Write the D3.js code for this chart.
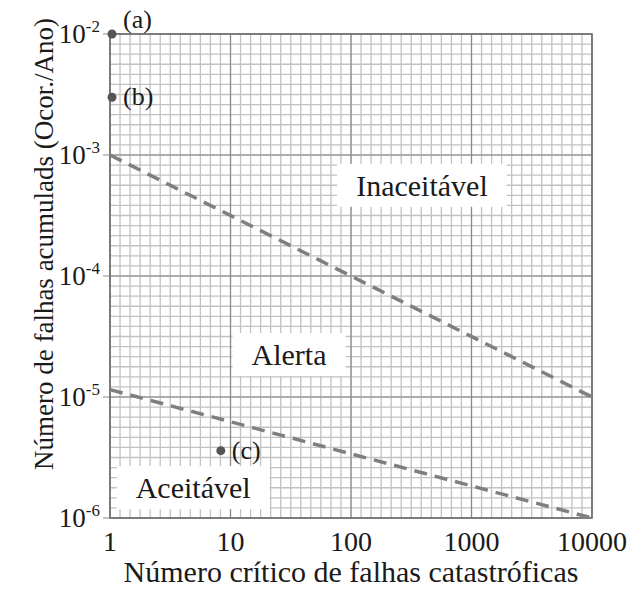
<!DOCTYPE html>
<html>
<head>
<meta charset="utf-8">
<script src="https://cdn.jsdelivr.net/npm/d3@7"></script>
<style>
  body { margin: 0; background: #fff; }
  svg text { font-family: "Liberation Serif", "Times New Roman", serif; fill: #1a1a1a; }
</style>
</head>
<body>
<svg width="628" height="590"></svg>
<script>
const width = 628;
const height = 590;

// data
const xTicks = [1, 10, 100, 1000, 10000];
const yTicks = [1e-6, 1e-5, 1e-4, 1e-3, 1e-2];
const yTickExp = ['-6', '-5', '-4', '-3', '-2'];
const upperLimit = [[1, 1e-3], [10000, 1e-5]];
const lowerLimit = [[1, 1.15e-5], [10000, 1e-6]];
const points = [
  { x: 1, y: 1e-2, label: '(a)' },
  { x: 1, y: 3e-3, label: '(b)' },
  { x: 8, y: 3.6e-6, label: '(c)' }
];
const regions = [
  { name: 'Inaceitável', x: 388, y: 4.6e-4 },
  { name: 'Alerta', x: 30.6, y: 1.84e-5 },
  { name: 'Aceitável', x: 4.9, y: 1.46e-6 }
];
const minorPerDecade = 12;

const svg = d3.select('svg');

const margin = { top: 34, left: 110, right: 36, bottom: 72 };
const innerWidth = width - margin.left - margin.right;
const innerHeight = height - margin.top - margin.bottom;

const xScale = d3.scaleLog().domain([1, 10000]).range([0, innerWidth]);
const yScale = d3.scaleLog().domain([1e-6, 1e-2]).range([innerHeight, 0]);

const g = svg.append('g')
  .attr('transform', 'translate(' + margin.left + ',' + margin.top + ')');

// fine grid (uniform in log space)
const xMinor = d3.range(0, 4 * minorPerDecade + 1).map(k => Math.pow(10, k / minorPerDecade));
const yMinor = d3.range(0, 4 * minorPerDecade + 1).map(k => Math.pow(10, -6 + k / minorPerDecade));

g.append('g').selectAll('line').data(xMinor).enter().append('line')
  .attr('x1', d => xScale(d)).attr('x2', d => xScale(d))
  .attr('y1', 0).attr('y2', innerHeight)
  .attr('stroke', '#c2c2c2').attr('stroke-width', 1.3);

g.append('g').selectAll('line').data(yMinor).enter().append('line')
  .attr('y1', d => yScale(d)).attr('y2', d => yScale(d))
  .attr('x1', 0).attr('x2', innerWidth)
  .attr('stroke', '#c2c2c2').attr('stroke-width', 1.3);

// decade lines
g.append('g').selectAll('line').data(xTicks).enter().append('line')
  .attr('x1', d => xScale(d)).attr('x2', d => xScale(d))
  .attr('y1', 0).attr('y2', innerHeight)
  .attr('stroke', '#8a8a8a').attr('stroke-width', 1.2);

g.append('g').selectAll('line').data(yTicks).enter().append('line')
  .attr('y1', d => yScale(d)).attr('y2', d => yScale(d))
  .attr('x1', -7).attr('x2', innerWidth)
  .attr('stroke', '#8a8a8a').attr('stroke-width', 1.2);

// border
g.append('rect')
  .attr('width', innerWidth).attr('height', innerHeight)
  .attr('fill', 'none').attr('stroke', '#707070').attr('stroke-width', 1.6);

// region labels with white boxes
const regionG = g.selectAll('.region').data(regions).enter().append('g')
  .attr('class', 'region');
regionG.append('text')
  .attr('x', d => xScale(d.x))
  .attr('y', d => yScale(d.y))
  .attr('text-anchor', 'middle')
  .attr('font-size', 30)
  .text(d => d.name);
regionG.each(function () {
  const grp = d3.select(this);
  const bb = grp.select('text').node().getBBox();
  grp.insert('rect', 'text')
    .attr('x', bb.x - 19).attr('y', bb.y - 5)
    .attr('width', bb.width + 38).attr('height', bb.height + 10)
    .attr('fill', '#fff');
});

// limit lines
const line = d3.line().x(d => xScale(d[0])).y(d => yScale(d[1]));
[upperLimit, lowerLimit].forEach(l => {
  g.append('path')
    .attr('d', line(l))
    .attr('fill', 'none')
    .attr('stroke', '#7f7f7f')
    .attr('stroke-width', 3.5)
    .attr('stroke-dasharray', '13,8');
});

// points
g.selectAll('circle').data(points).enter().append('circle')
  .attr('cx', d => xScale(d.x) + 2)
  .attr('cy', d => yScale(d.y))
  .attr('r', 4.5)
  .attr('fill', '#555');

g.selectAll('.pt-label').data(points).enter().append('text')
  .attr('class', 'pt-label')
  .attr('x', d => xScale(d.x) + 13)
  .attr('y', d => yScale(d.y) + (d.label === '(a)' ? -6 : 8))
  .attr('font-size', 26)
  .text(d => d.label);

// x tick labels
g.selectAll('.x-tick').data(xTicks).enter().append('text')
  .attr('class', 'x-tick')
  .attr('x', d => xScale(d))
  .attr('y', innerHeight + 33)
  .attr('text-anchor', 'middle')
  .attr('font-size', 28)
  .text(d => d);

// y tick labels (10 with superscript)
const yLab = g.selectAll('.y-tick').data(yTicks).enter().append('text')
  .attr('class', 'y-tick')
  .attr('x', -10)
  .attr('y', d => yScale(d) + 9)
  .attr('text-anchor', 'end')
  .attr('font-size', 27);
yLab.append('tspan').text('10');
yLab.append('tspan')
  .attr('dy', -11)
  .attr('font-size', 17)
  .text((d, i) => yTickExp[i]);

// axis titles
svg.append('text')
  .attr('x', margin.left + innerWidth / 2)
  .attr('y', 582)
  .attr('text-anchor', 'middle')
  .attr('font-size', 30)
  .text('Número crítico de falhas catastróficas');

svg.append('text')
  .attr('transform', 'translate(53,244) rotate(-90)')
  .attr('text-anchor', 'middle')
  .attr('font-size', 27)
  .text('Número de falhas acumulads (Ocor./Ano)');
</script>
</body>
</html>
